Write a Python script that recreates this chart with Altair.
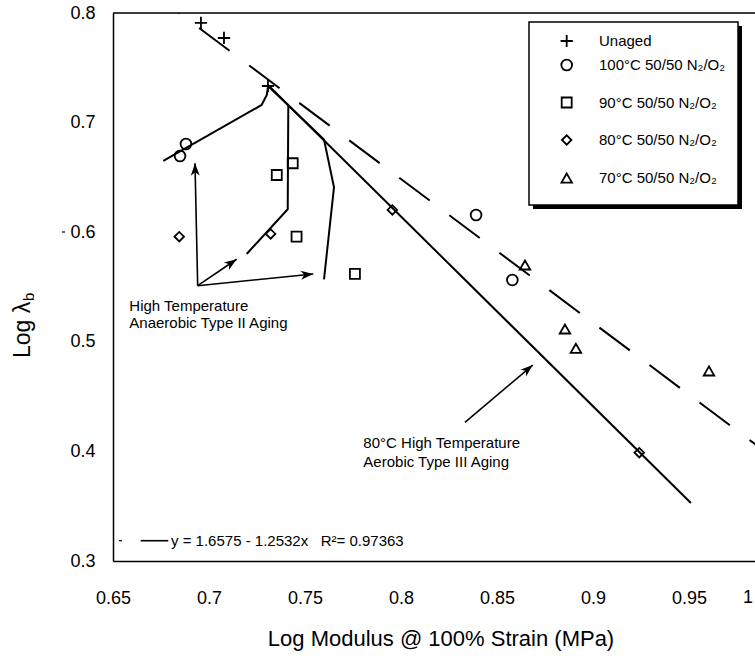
import math
import altair as alt
import pandas as pd

# ---------------- data ----------------
unaged_x = [0.6958, 0.7078, 0.7307]
unaged_y = [0.7909, 0.7772, 0.7334]
t100_x = [0.6880, 0.6849, 0.8391, 0.8580]
t100_y = [0.6805, 0.6695, 0.6157, 0.5564]
t90_x = [0.7436, 0.7353, 0.7456, 0.7760]
t90_y = [0.6629, 0.6522, 0.5959, 0.5619]
t80_x = [0.6845, 0.7321, 0.7955, 0.9241]
t80_y = [0.5959, 0.5984, 0.6203, 0.3988]
t70_x = [0.8646, 0.8854, 0.8911, 0.9604]
t70_y = [0.5701, 0.5117, 0.4941, 0.4734]

# lines
dash_x = [0.6688, 1.0]
dash_y = [0.8205, 0.3862]
solid_x = [0.7307, 0.9510]
solid_y = [0.7343, 0.3529]
curveA_x = [0.6762, 0.7274, 0.7301, 0.7309]
curveA_y = [0.6650, 0.7161, 0.7252, 0.7343]
curveB_x = [0.7196, 0.7410, 0.7413]
curveB_y = [0.5801, 0.6209, 0.7151]
curveC_x = [0.7313, 0.7599, 0.7651, 0.7599]
curveC_y = [0.7325, 0.6846, 0.6410, 0.5570]

# arrows (tail -> tip)
arrow_x1 = [0.6941, 0.6941, 0.6941, 0.8333]
arrow_y1 = [0.5512, 0.5512, 0.5512, 0.4265]
arrow_x2 = [0.6927, 0.7144, 0.7543, 0.8686]
arrow_y2 = [0.6629, 0.5753, 0.5619, 0.4788]

# annotation texts
note_text = ["High Temperature", "Anaerobic Type II Aging",
             "80°C High Temperature", "Aerobic Type III Aging"]
note_x = [0.6585, 0.6585, 0.7804, 0.7804]
note_y = [0.5329, 0.5169, 0.4079, 0.3906]

legend_labels = ["Unaged", "100°C 50/50 N\u2082/O\u2082", "90°C 50/50 N\u2082/O\u2082",
                 "80°C 50/50 N\u2082/O\u2082", "70°C 50/50 N\u2082/O\u2082"]
equation = "y = 1.6575 - 1.2532x\u00a0\u00a0\u00a0R\u00b2= 0.97363"

x_ticks = [0.65, 0.7, 0.75, 0.8, 0.85, 0.9, 0.95]
y_ticks = [0.3, 0.4, 0.5, 0.6, 0.7, 0.8]

# ---------------- layout ----------------
FONT = "Liberation Sans"
X_MIN, X_MAX = 0.65, 0.984375
Y_MIN, Y_MAX = 0.3, 0.8
W, H = 642, 548
LEFT, TOP = 113, 13

xs = alt.Scale(domain=[X_MIN, X_MAX], nice=False, zero=False)
ys = alt.Scale(domain=[Y_MIN, Y_MAX], nice=False, zero=False)

xax = alt.Axis(values=x_ticks, format=".2~f", ticks=False, tickSize=0, grid=False,
               domainColor="black", domainWidth=1.5, labelFont=FONT, labelFontSize=18,
               labelColor="black", labelPadding=42, labelBaseline="alphabetic",
               labelFlush=False, labelOverlap=False,
               title="Log Modulus @ 100% Strain (MPa)", titleFont=FONT, titleFontSize=22,
               titleFontWeight="normal", titleColor="black", titleX=327.5, titleY=84,
               titleBaseline="alphabetic", titleAlign="center")
yax = alt.Axis(values=y_ticks, format=".1f", ticks=False, tickSize=0, grid=False,
               domainColor="black", domainWidth=1.5, labelFont=FONT, labelFontSize=18,
               labelColor="black", labelPadding=18, labelFlush=False, labelOverlap=False,
               title=None)


def X(f="x"):
    return alt.X(f"{f}:Q", scale=xs, axis=xax)


def Y(f="y"):
    return alt.Y(f"{f}:Q", scale=ys, axis=yax)


def rx(px):
    return px - LEFT


def ry(py):
    return py - TOP


layers = []

# top frame line
layers.append(alt.Chart(pd.DataFrame({"y": [Y_MAX]})).mark_rule(
    color="black", strokeWidth=1.5).encode(y=Y()))


def line_layer(xv, yv, **kw):
    df = pd.DataFrame({"x": xv, "y": yv, "i": list(range(len(xv)))})
    return alt.Chart(df).mark_line(color="black", clip=True, **kw).encode(
        x=X(), y=Y(), order="i:Q")


layers.append(line_layer(dash_x, dash_y, strokeWidth=2, strokeDash=[38, 24.5]))
layers.append(line_layer(solid_x, solid_y, strokeWidth=2))
layers.append(line_layer(curveA_x, curveA_y, strokeWidth=2))
layers.append(line_layer(curveB_x, curveB_y, strokeWidth=2))
layers.append(line_layer(curveC_x, curveC_y, strokeWidth=2))

# arrows
sx = W / (X_MAX - X_MIN)
sy = H / (Y_MAX - Y_MIN)
angles = [math.degrees(math.atan2(-(b2 - b1) * sy, (a2 - a1) * sx)) % 360
          for a1, b1, a2, b2 in zip(arrow_x1, arrow_y1, arrow_x2, arrow_y2)]
arr = pd.DataFrame({"x": arrow_x1, "y": arrow_y1, "x2": arrow_x2, "y2": arrow_y2, "ang": angles})
layers.append(alt.Chart(arr).mark_rule(color="black", strokeWidth=1.6).encode(
    x=X(), y=Y(), x2="x2:Q", y2="y2:Q"))
ARROW = "M0,0L-1,-0.36L-0.72,0L-1,0.36Z"
layers.append(alt.Chart(arr).mark_point(shape=ARROW, filled=True, color="black",
                                        size=620, opacity=1).encode(
    x=X("x2"), y=Y("y2"), angle=alt.Angle("ang:Q", scale=None)))

# points
PLUS = "M-1,0L1,0M0,-1L0,1"
series = [
    (unaged_x, unaged_y, PLUS, 150),
    (t100_x, t100_y, "circle", 115),
    (t90_x, t90_y, "square", 100),
    (t80_x, t80_y, "diamond", 90),
    (t70_x, t70_y, "triangle-up", 110),
]
for xv, yv, shp, sz in series:
    df = pd.DataFrame({"x": xv, "y": yv})
    layers.append(alt.Chart(df).mark_point(shape=shp, filled=False, stroke="black",
                                           strokeWidth=1.8, size=sz, opacity=1).encode(
        x=X(), y=Y()))

# annotations
notes = pd.DataFrame({"x": note_x, "y": note_y, "t": note_text})
layers.append(alt.Chart(notes).mark_text(font=FONT, fontSize=15, align="left",
                                         baseline="middle", color="black").encode(
    x=X(), y=Y(), text="t:N"))

one = pd.DataFrame({"a": [0]})

# equation legend
layers.append(alt.Chart(one).mark_rule(color="black", strokeWidth=1.6).encode(
    x=alt.value(rx(140.7)), x2=alt.value(rx(168.3)), y=alt.value(ry(540.7)), y2=alt.value(ry(540.7))))
layers.append(alt.Chart(one).mark_rule(color="black", strokeWidth=1.2).encode(
    x=alt.value(rx(119)), x2=alt.value(rx(122)), y=alt.value(ry(540.7)), y2=alt.value(ry(540.7))))
layers.append(alt.Chart(one).mark_text(text=equation, font=FONT, fontSize=15, align="left",
                                       baseline="middle", color="black").encode(
    x=alt.value(rx(171)), y=alt.value(ry(540.7))))

# stray dash left of the 0.6 label
layers.append(alt.Chart(one).mark_rule(color="black", strokeWidth=1.2).encode(
    x=alt.value(rx(62)), x2=alt.value(rx(65)), y=alt.value(ry(232)), y2=alt.value(ry(232))))

# "1" tick label at the right edge
layers.append(alt.Chart(one).mark_text(text="1", font=FONT, fontSize=18, align="center",
                                       baseline="alphabetic", color="black", clip=False).encode(
    x=alt.value(rx(748)), y=alt.value(ry(603))))

# y-axis title built from text so the subscript can be lowered
layers.append(alt.Chart(one).mark_text(text="Log λ", font=FONT, fontSize=23, angle=270,
                                       align="left", baseline="alphabetic", color="black").encode(
    x=alt.value(rx(30)), y=alt.value(ry(358))))
layers.append(alt.Chart(one).mark_text(text="b", font=FONT, fontSize=15, angle=270,
                                       align="left", baseline="alphabetic", color="black").encode(
    x=alt.value(rx(34)), y=alt.value(ry(301))))

# legend box with shadow
layers.append(alt.Chart(one).mark_rect(color="black").encode(
    x=alt.value(rx(533)), x2=alt.value(rx(742)), y=alt.value(ry(26)), y2=alt.value(ry(209))))
layers.append(alt.Chart(one).mark_rect(fill="white", stroke="black", strokeWidth=1.5).encode(
    x=alt.value(rx(529)), x2=alt.value(rx(738)), y=alt.value(ry(22)), y2=alt.value(ry(205))))

legend_rows = [41, 65, 102.5, 140, 178]
for (xv, yv, shp, sz), lab, rowy in zip(series, legend_labels, legend_rows):
    layers.append(alt.Chart(one).mark_point(shape=shp, filled=False, stroke="black",
                                            strokeWidth=1.8, size=sz, opacity=1).encode(
        x=alt.value(rx(566.7)), y=alt.value(ry(rowy))))
    layers.append(alt.Chart(one).mark_text(text=lab, font=FONT, fontSize=15, align="left",
                                           baseline="middle", color="black").encode(
        x=alt.value(rx(599)), y=alt.value(ry(rowy))))

chart = alt.layer(*layers).properties(
    width=W, height=H, autosize="none",
    padding={"left": LEFT, "top": TOP, "right": 0, "bottom": 658 - TOP - H},
    background="white",
).configure_view(stroke=None).configure(font=FONT)

chart.save("out.html", embed_options={"renderer": "svg", "actions": False})
